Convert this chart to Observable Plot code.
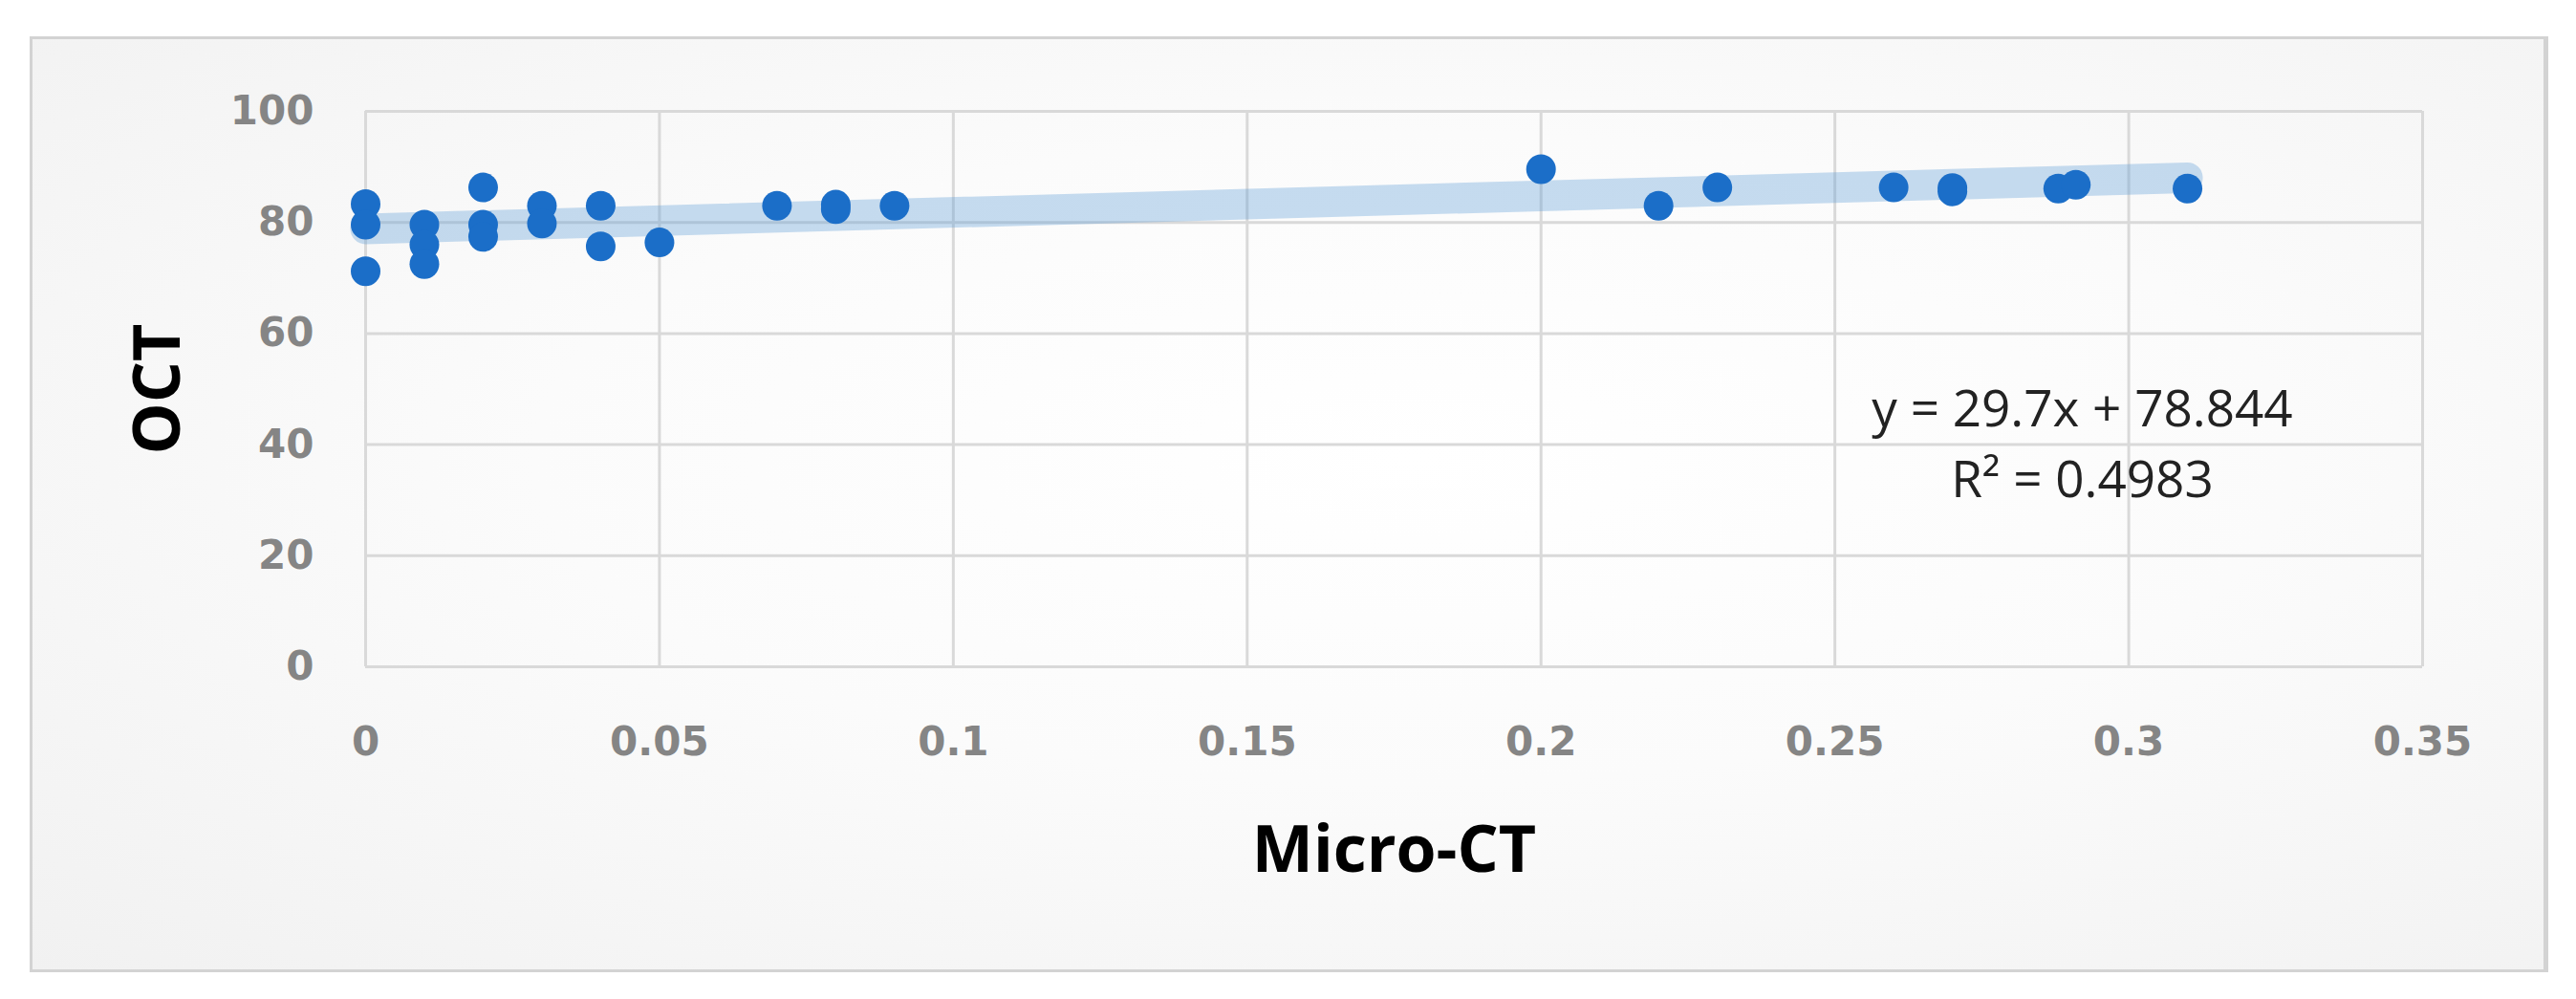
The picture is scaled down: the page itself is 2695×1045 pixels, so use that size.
<!DOCTYPE html>
<html>
<head>
<meta charset="utf-8">
<script src="https://cdn.jsdelivr.net/npm/d3@7"></script>
<script src="https://cdn.jsdelivr.net/npm/@observablehq/plot@0.6"></script>
<style>
  html, body { margin: 0; padding: 0; background: #ffffff; }
  #wrap { position: relative; width: 2695px; height: 1045px; overflow: hidden; }
  #frame {
    position: absolute; left: 31px; top: 38px; width: 2627px; height: 973px;
    border: 3px solid #d3d3d3; border-right-width: 5px;
    background: radial-gradient(ellipse at 55% 45%, #ffffff 0%, #fbfbfb 45%, #f1f1f1 100%);
  }
  #chart { position: absolute; left: 0; top: 0; }
</style>
</head>
<body>
<div id="wrap"><div id="frame"></div><div id="chart"></div></div>
<script>
// ---- data ----
const microCT = [0, 0, 0, 0.01, 0.01, 0.01, 0.02, 0.02, 0.02, 0.03, 0.03, 0.04, 0.04, 0.05, 0.07, 0.08, 0.08, 0.09, 0.20, 0.22, 0.23, 0.26, 0.27, 0.27, 0.288, 0.291, 0.31];
const oct     = [83.3, 79.6, 71.2, 79.6, 76.0, 72.5, 86.3, 79.6, 77.4, 83.0, 79.8, 83.0, 75.7, 76.4, 83.0, 83.2, 82.4, 83.0, 89.6, 83.0, 86.3, 86.3, 86.2, 85.6, 86.1, 86.8, 86.1];
const xTicks = [0, 0.05, 0.1, 0.15, 0.2, 0.25, 0.3, 0.35];
const xTickLabels = ["0", "0.05", "0.1", "0.15", "0.2", "0.25", "0.3", "0.35"];
const yTicks = [0, 20, 40, 60, 80, 100];
const slope = 29.7;
const intercept = 78.844;
const equationLines = ["y = 29.7x + 78.844", "R\u00b2 = 0.4983"];
const xTitle = "Micro-CT";
const yTitle = "OCT";

// ---- derived tables ----
const points = microCT.map((x, i) => ({x, y: oct[i]}));
const trend = d3.extent(microCT).map(x => ({x, y: slope * x + intercept}));

const gridColor = "#d9d9d9";
const tickFont = {fontFamily: "DejaVu Sans", fontWeight: "bold", fontSize: 42, color: "#858585"};

const chart = Plot.plot({
  width: 2695,
  height: 1045,
  marginLeft: 382,
  marginRight: 161,
  marginTop: 116,
  marginBottom: 348,
  style: {background: "transparent", overflow: "visible"},
  x: {domain: [0, 0.35]},
  y: {domain: [0, 100]},
  marks: [
    Plot.ruleX(xTicks, {stroke: gridColor, strokeWidth: 3}),
    Plot.ruleY(yTicks, {stroke: gridColor, strokeWidth: 3}),
    Plot.axisX({
      ticks: xTicks,
      tickFormat: d => xTickLabels[xTicks.indexOf(d)],
      tickSize: 0, tickPadding: 63, label: null, ...tickFont
    }),
    Plot.axisY({
      ticks: yTicks,
      tickFormat: d => String(d),
      tickSize: 0, tickPadding: 54, label: null, ...tickFont
    }),
    Plot.line(trend, {x: "x", y: "y", stroke: "#5b9bd5", strokeOpacity: 0.34, strokeWidth: 32, strokeLinecap: "round"}),
    Plot.dot(points, {x: "x", y: "y", r: 15.5, fill: "#1b6ec8", stroke: "none"}),
    Plot.text([equationLines.join("\n")], {
      x: 0.2921, y: 41, textAnchor: "middle", lineAnchor: "middle", lineHeight: 1.4,
      fontFamily: "Open Sans", fontSize: 53, fill: "#222222"
    }),
    Plot.text([xTitle], {
      frameAnchor: "bottom", dy: 193, textAnchor: "middle", lineAnchor: "middle",
      fontFamily: "Open Sans", fontWeight: "bold", fontSize: 68, fill: "#000000"
    }),
    Plot.text([yTitle], {
      frameAnchor: "left", dx: -216, rotate: -90, textAnchor: "middle", lineAnchor: "middle",
      fontFamily: "Open Sans", fontWeight: "bold", fontSize: 68, fill: "#000000"
    })
  ]
});
document.getElementById("chart").appendChild(chart);
</script>
</body>
</html>
